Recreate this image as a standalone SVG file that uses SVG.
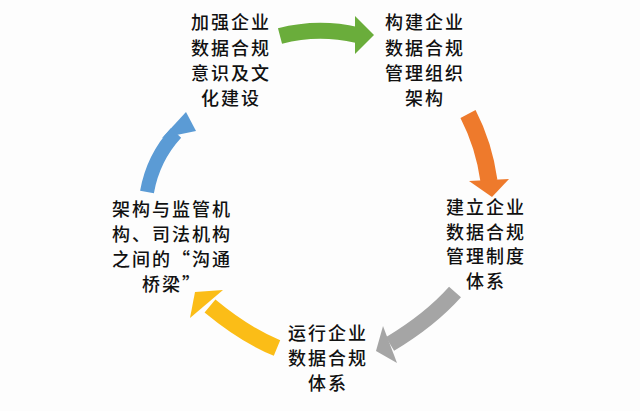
<svg xmlns="http://www.w3.org/2000/svg" width="640" height="411" viewBox="0 0 640 411">
<style>
text{font-family:"Noto Sans CJK SC",sans-serif;font-size:18px;fill:#111;text-anchor:middle;letter-spacing:2px;font-weight:500}
.s{fill:none}
</style>
<rect width="640" height="411" fill="#fdfdfd"/>
<g id="connectors">
<path class="s" d="M280,36 Q318,26 357,35" stroke="#6aad3b" stroke-width="16"/>
<polygon points="355,16 374,35 355,54" fill="#6aad3b"/>
<path class="s" d="M468,114 Q484,145 489,181" stroke="#ee7a2c" stroke-width="17"/>
<polygon points="469,181 509,179 492,197" fill="#ee7a2c"/>
<path class="s" d="M455,292 Q430,320 390,344" stroke="#a5a5a5" stroke-width="16"/>
<polygon points="383,326 397,363 376,351" fill="#a5a5a5"/>
<path class="s" d="M277,348 Q245,335 210,306" stroke="#fbbd17" stroke-width="17"/>
<polygon points="190,318 223,290 195,292" fill="#fbbd17"/>
<path class="s" d="M147,192 Q153,158 176,133" stroke="#5b9bd5" stroke-width="14"/>
<polygon points="162,138 196,131 186,112" fill="#5b9bd5"/>
</g>
<g id="n1"><text x="231" y="29">加强企业</text><text x="231" y="55">数据合规</text><text x="231" y="80">意识及文</text><text x="231" y="105">化建设</text></g>
<g id="n2"><text x="425" y="29">构建企业</text><text x="425" y="55">数据合规</text><text x="425" y="80">管理组织</text><text x="425" y="105">架构</text></g>
<g id="n3"><text x="486" y="214">建立企业</text><text x="486" y="239">数据合规</text><text x="486" y="263">管理制度</text><text x="486" y="288">体系</text></g>
<g id="n4"><text x="328" y="340">运行企业</text><text x="328" y="365">数据合规</text><text x="328" y="390">体系</text></g>
<g id="n5"><text x="172" y="216">架构与监管机</text><text x="172" y="241">构、司法机构</text><text x="172" y="266">之间的“沟通</text><text x="172" y="291">桥梁”</text></g>
</svg>
